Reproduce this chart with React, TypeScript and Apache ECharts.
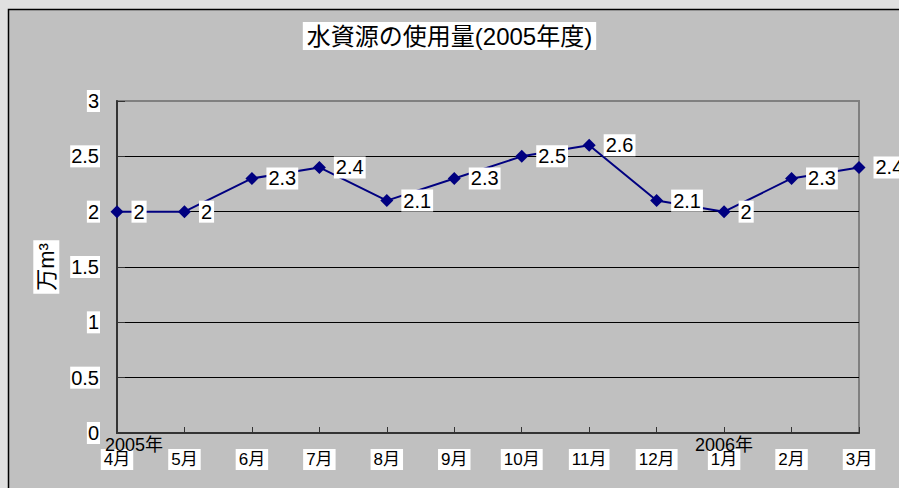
import React, { useEffect, useRef } from "react";
import * as echarts from "echarts";

const months = ["4月", "5月", "6月", "7月", "8月", "9月", "10月", "11月", "12月", "1月", "2月", "3月"];
const yearLabels = ["2005年", "", "", "", "", "", "", "", "", "2006年", "", ""];
const usage = [2, 2, 2.3, 2.4, 2.1, 2.3, 2.5, 2.6, 2.1, 2, 2.3, 2.4];
const titleText = "水資源の使用量(2005年度)";
const yName = "万m³";

const FONT = "'Liberation Sans', Arial, 'Noto Sans CJK JP', sans-serif";

export default function App() {
  const ref = useRef<HTMLDivElement>(null);
  useEffect(() => {
    if (!ref.current) return;
    const chart = echarts.init(ref.current, undefined, { renderer: "svg" });
    chart.setOption({
      animation: false,
      backgroundColor: "#e0e0e0",
      textStyle: { fontFamily: FONT },
      graphic: [
        {
          type: "rect",
          z: -10,
          silent: true,
          shape: { x: 8.5, y: 9.5, width: 910, height: 500 },
          style: { fill: "#c0c0c0", stroke: "#000", lineWidth: 1.5 },
        },
      ],
      title: {
        text: titleText,
        left: "center",
        top: 22,
        backgroundColor: "#fff",
        padding: [2, 4],
        textStyle: { fontSize: 24, fontWeight: "normal", color: "#000", fontFamily: FONT },
      },
      grid: {
        left: 117,
        top: 101,
        right: 40,
        bottom: 55,
        show: true,
        borderColor: "#808080",
        borderWidth: 2,
        backgroundColor: "transparent",
      },
      xAxis: [
        {
          type: "category",
          data: months,
          boundaryGap: false,
          position: "bottom",
          axisLine: { lineStyle: { color: "#333", width: 2 } },
          axisTick: { inside: true, length: 6, lineStyle: { color: "#333", width: 1 } },
          axisLabel: {
            interval: 0,
            margin: 16,
            color: "#000",
            fontSize: 17,
            fontFamily: FONT,
            backgroundColor: "#fff",
            padding: [2, 3],
          },
          splitLine: { show: false },
        },
        {
          type: "category",
          data: months,
          boundaryGap: false,
          position: "bottom",
          offset: 0,
          axisLine: { show: false },
          axisTick: { show: false },
          axisLabel: {
            interval: 0,
            margin: 3,
            color: "#000",
            fontSize: 18,
            fontFamily: FONT,
            formatter: (_v: string, i: number) => (i === 0 ? "{a|" + yearLabels[i] + "}" : yearLabels[i]),
            rich: { a: { padding: [0, 0, 0, 34], fontSize: 18, fontFamily: FONT, color: "#000" } },
          },
          splitLine: { show: false },
        },
      ],
      yAxis: {
        type: "value",
        min: 0,
        max: 3,
        interval: 0.5,
        name: yName,
        nameLocation: "middle",
        nameRotate: 90,
        nameGap: 55,
        nameTextStyle: {
          fontSize: 22,
          color: "#000",
          backgroundColor: "#fff",
          padding: [2, 3],
          fontFamily: FONT,
        },
        axisLine: { show: true, lineStyle: { color: "#333", width: 2 } },
        axisTick: { show: true, inside: true, length: 8, lineStyle: { color: "#333", width: 1 } },
        axisLabel: {
          margin: 17,
          color: "#000",
          fontSize: 20,
          fontFamily: FONT,
          backgroundColor: "#fff",
          padding: [1, 1],
        },
        splitLine: {
          show: true,
          lineStyle: { color: ["#000", "#000", "#000", "#000", "#000", "#000", "#808080"], width: 1 },
        },
      },
      series: [
        {
          type: "line",
          data: usage,
          xAxisIndex: 0,
          color: "#000080",
          lineStyle: { color: "#000080", width: 2 },
          symbol: "diamond",
          symbolSize: 13,
          itemStyle: { color: "#000080" },
          label: {
            show: true,
            position: "right",
            distance: 8,
            color: "#000",
            fontSize: 20,
            fontFamily: FONT,
            backgroundColor: "#fff",
            padding: [1, 2],
          },
          z: 5,
        },
      ],
    });
    return () => chart.dispose();
  }, []);
  return (
    <div
      ref={ref}
      style={{ position: "absolute", left: 0, top: 0, width: 899, height: 488 }}
    />
  );
}
